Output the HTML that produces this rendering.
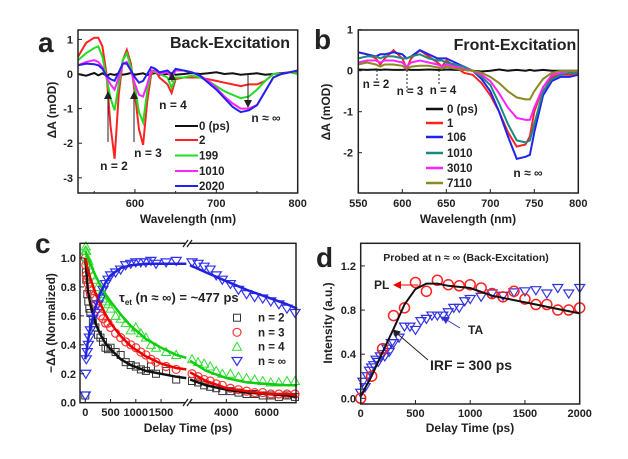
<!DOCTYPE html>
<html><head><meta charset="utf-8"><style>
body{margin:0;background:#fff;}
svg{display:block;font-family:"Liberation Sans",Arial,sans-serif;font-weight:bold;}
</style></head><body>
<svg id="fig" width="628" height="459" viewBox="0 0 628 459">
<defs>
<marker id="ah" markerWidth="8" markerHeight="8" refX="7" refY="4" orient="auto" markerUnits="userSpaceOnUse"><path d="M0,0 L8,4 L0,8 z" fill="#222"/></marker>
<marker id="ahr" markerWidth="8" markerHeight="8" refX="7" refY="4" orient="auto" markerUnits="userSpaceOnUse"><path d="M0,0 L8,4 L0,8 z" fill="#e00"/></marker>
<marker id="ahb" markerWidth="8" markerHeight="8" refX="7" refY="4" orient="auto" markerUnits="userSpaceOnUse"><path d="M0,0 L8,4 L0,8 z" fill="#33c"/></marker>
</defs>
</svg>
<script>
// ---- Panel a data ----
const aWl=[530,540,550,555,560,565,570,575,580,585,590,595,600,605,610,615,620,625,630,640,645,650,660,670,680,690,700,710,720,730,740,750,760,770,780,790,800];
const a0=[0,-0.05,0.03,-0.04,0.02,-0.05,0,-0.03,0.02,-0.02,0,0.03,-0.02,0,0.02,-0.03,0,0.03,-0.02,0,0.02,-0.02,0,0.03,0,0.02,0.05,0,0.02,-0.02,0,0.02,-0.02,0,0.02,0.05,0.05];
const a2=[0.5,0.9,1.05,1.05,0.8,0,-1.5,-2.45,-0.6,0.4,0.7,0.3,-0.6,-1.6,-2.05,-0.8,0,0.1,-0.1,-0.3,-0.55,-0.15,-0.1,-0.1,-0.1,-0.15,-0.2,-0.25,-0.3,-0.35,-0.3,-0.3,-0.2,0,0,0.05,0.05];
const a199=[0.4,0.6,0.75,0.8,0.5,-0.1,-0.7,-1.05,-0.3,0.4,0.6,0.2,-0.4,-1.1,-1.4,-0.5,0.1,0.05,0,-0.1,-0.4,-0.1,-0.1,-0.05,-0.1,-0.2,-0.35,-0.5,-0.6,-0.7,-0.65,-0.45,-0.2,0,0,0.05,0];
const a1010=[0.25,0.35,0.4,0.35,0.2,-0.1,-0.3,-0.45,-0.1,0.3,0.35,0.1,-0.3,-0.6,-0.65,-0.3,0.1,0.1,0,0.05,-0.1,0.1,0.1,0.05,-0.05,-0.2,-0.4,-0.65,-0.85,-1.0,-1.0,-0.9,-0.5,-0.1,0,0.05,0.1];
const a2020=[0.25,0.3,0.28,0.25,0.15,-0.05,-0.15,-0.2,0.05,0.3,0.3,0.1,-0.1,-0.25,-0.2,0,0.2,0.15,0.05,0.1,0,0.15,0.1,0.05,-0.05,-0.25,-0.45,-0.7,-0.95,-1.1,-1.05,-0.9,-0.5,-0.1,0,0.05,0.1];
const aLabels=['0 (ps)','2','199','1010','2020'];
// ---- Panel b data ----
const bWl=[550,560,570,575,580,590,600,605,610,620,630,640,645,650,660,670,680,690,700,710,720,730,740,745,750,760,770,780,790,800];
const b0=[0.03,0.02,0.03,0.02,0.03,0.02,0.02,0.03,0.02,0.02,0.03,0.02,0.02,0.03,0.02,0.02,0,-0.02,0,0.03,0,0.02,0,0.02,0,0.02,0,0,0,0];
const b1=[0.45,0.4,0.3,0.15,0.3,0.5,0.3,0.05,0.3,0.5,0.35,0.2,0.1,0.25,0.1,-0.05,-0.1,-0.3,-0.6,-1.0,-1.5,-1.85,-1.8,-1.6,-1.0,-0.4,-0.15,-0.1,-0.1,-0.05];
const b106=[0.45,0.4,0.35,0.4,0.4,0.45,0.4,0.3,0.35,0.5,0.4,0.3,0.3,0.3,0.2,0.1,0,-0.2,-0.5,-1.0,-1.6,-2.15,-2.1,-2.05,-1.5,-0.6,-0.25,-0.15,-0.15,-0.1];
const b1010=[0.3,0.35,0.35,0.3,0.35,0.35,0.3,0.3,0.35,0.4,0.3,0.25,0.25,0.2,0.15,0.1,0,-0.15,-0.35,-0.8,-1.3,-1.7,-1.75,-1.7,-1.3,-0.5,-0.2,-0.1,-0.05,-0.05];
const b3010=[0.2,0.25,0.25,0.2,0.25,0.25,0.2,0.1,0.2,0.25,0.2,0.15,0.1,0.15,0.1,0.05,0,-0.1,-0.25,-0.55,-0.9,-1.15,-1.2,-1.2,-0.9,-0.4,-0.1,-0.05,0,0];
const b7110=[0.15,0.2,0.15,0.1,0.15,0.15,0.12,0.05,0.1,0.12,0.12,0.08,0.05,0.1,0.05,0.02,0,-0.05,-0.15,-0.3,-0.5,-0.65,-0.7,-0.7,-0.5,-0.2,-0.05,0,0,0];
const bLabels=['0 (ps)','1','106','1010','3010','7110'];
// ---- Panel c data ----
const cT=[0,10,20,40,60,80,100,150,200,250,300,350,400,450,500,600,700,800,900,1000,1100,1200,1300,1400,1600,1800,2300,2600,2900,3200,3500,3800,4200,4600,5000,5400,5800,6200,6600,7000,7400];
const cN2=[0.05,0.9,0.85,0.75,0.7,0.65,0.62,0.55,0.52,0.47,0.45,0.42,0.38,0.37,0.38,0.35,0.33,0.28,0.26,0.25,0.23,0.22,0.25,0.2,0.22,0.16,0.15,0.14,0.12,0.11,0.1,0.08,0.08,0.07,0.06,0.06,0.05,0.05,0.04,0.05,0.04];
const cN3=[1.0,0.95,0.88,0.85,0.82,0.78,0.75,0.72,0.68,0.65,0.6,0.58,0.55,0.55,0.52,0.48,0.45,0.42,0.4,0.38,0.35,0.33,0.3,0.28,0.25,0.23,0.2,0.18,0.16,0.15,0.13,0.12,0.1,0.09,0.08,0.07,0.07,0.06,0.06,0.06,0.06];
const cN4=[1.05,1.08,1.05,1.0,0.98,0.95,0.92,0.88,0.85,0.8,0.75,0.72,0.7,0.68,0.65,0.6,0.58,0.55,0.5,0.52,0.48,0.45,0.4,0.38,0.35,0.33,0.3,0.28,0.27,0.25,0.22,0.2,0.2,0.18,0.17,0.16,0.15,0.14,0.14,0.15,0.15];
const cNinf=[0.05,0.2,0.3,0.35,0.4,0.45,0.5,0.58,0.62,0.68,0.72,0.78,0.82,0.85,0.88,0.9,0.92,0.95,0.96,0.97,0.97,0.97,0.98,0.96,0.97,0.98,0.97,0.96,0.94,0.92,0.88,0.85,0.82,0.78,0.75,0.73,0.72,0.7,0.68,0.65,0.62];
const cFitT1=[0,50,100,200,300,400,500,700,900,1200,1500,1800,2000];
const cFitT2=[2200,3000,4000,5000,6000,7000,7500];
const cFit2=[1.0,0.78,0.68,0.55,0.47,0.41,0.37,0.3,0.26,0.22,0.2,0.18,0.17, 0.16,0.12,0.09,0.07,0.06,0.05,0.04];
const cFit3=[1.0,0.92,0.86,0.76,0.68,0.61,0.55,0.46,0.39,0.32,0.27,0.24,0.23, 0.21,0.15,0.1,0.08,0.06,0.06,0.05];
const cFit4=[1.05,1.0,0.96,0.88,0.81,0.75,0.7,0.61,0.53,0.44,0.38,0.33,0.31, 0.29,0.22,0.17,0.14,0.13,0.12,0.12];
const cFitInf=[0.3,0.42,0.52,0.66,0.76,0.83,0.88,0.93,0.95,0.96,0.96,0.96,0.96, 0.95,0.9,0.84,0.78,0.73,0.68,0.65];
// ---- Panel d data ----
const dPLt=[0,100,200,300,400,500,600,700,800,900,1000,1100,1200,1300,1400,1500,1600,1700,1800,1900,2000];
const dPL=[0,0.2,0.45,0.75,0.82,1.05,0.97,1.07,1.03,1.02,1.03,1.0,0.95,0.92,0.97,0.9,0.85,0.85,0.8,0.8,0.82];
const dTAt=[0,20,40,60,80,100,120,140,160,180,200,220,240,260,280,300,350,400,450,500,550,600,650,700,750,800,850,900,950,1000,1100,1200,1300,1400,1500,1600,1700,1800,1900,2000];
const dTA=[0.05,0.15,0.1,0.2,0.25,0.28,0.3,0.35,0.33,0.38,0.4,0.38,0.45,0.42,0.5,0.5,0.55,0.65,0.65,0.62,0.7,0.72,0.75,0.75,0.75,0.78,0.82,0.82,0.88,0.9,0.92,0.95,0.93,0.96,0.97,0.98,0.95,1.0,0.95,1.0];
const dFitT=[0,100,200,300,400,500,600,700,800,900,1000,1200,1400,1600,1800,2000];
const dFit=[0.02,0.2,0.42,0.63,0.85,0.99,1.04,1.04,1.02,1.01,1.0,0.93,0.89,0.85,0.81,0.77];

const NS='http://www.w3.org/2000/svg';
const svg=document.getElementById('fig');
function mk(tag,attrs,parent){const e=document.createElementNS(NS,tag);for(const k in attrs)e.setAttribute(k,attrs[k]);(parent||svg).appendChild(e);return e;}
function txt(x,y,s,size,anchor,parent,extra){const t=mk('text',Object.assign({x:x,y:y,'font-size':size,'text-anchor':anchor||'start',fill:'#222'},extra||{}),parent);t.textContent=s;return t;}
function linePath(xs,ys,fx,fy){return xs.map((v,i)=>(i?'L':'M')+fx(v).toFixed(1)+','+fy(ys[i]).toFixed(1)).join(' ');}

// ===== Panel a =====
const ax=v=>78+(v-530)*(297.7-78)/270, ay=v=>74-v*34.6;
const gA=mk('g',{});


[[a0,'#111'],[a2,'#f22'],[a199,'#2d2'],[a1010,'#f2f'],[a2020,'#22e']].forEach((s,i)=>{
  const p=mk('path',{d:linePath(aWl,s[0],ax,ay),fill:'none',stroke:s[1],'stroke-width':2},gA);
  
  
});
mk('rect',{x:78,y:30,width:219.7,height:163,fill:'none',stroke:'#222','stroke-width':1.5},gA);
[1,0,-1,-2,-3].forEach(v=>{mk('line',{x1:78,x2:82,y1:ay(v),y2:ay(v),stroke:'#222'},gA);txt(73,ay(v)+4,String(v),11,'end',gA);});
[600,700,800].forEach(v=>{mk('line',{x1:ax(v),x2:ax(v),y1:193,y2:189,stroke:'#222'},gA);txt(ax(v),207,String(v),11,'middle',gA);});
[550,650,750].forEach(v=>mk('line',{x1:ax(v),x2:ax(v),y1:193,y2:191,stroke:'#222'},gA));
txt(188,223,'Wavelength (nm)',12,'middle',gA);
const ayt=txt(0,0,'ΔA (mOD)',12,'middle',gA,{transform:'translate(56,110) rotate(-90)'});

txt(38,52,'a',28,'start',gA);
txt(230,48,'Back-Excitation',16,'middle',gA);
['#111','#f22','#2d2','#f2f','#22e'].forEach((c,i)=>{const y=[126,140,155.5,171,186][i];
  const le=mk('line',{x1:175,x2:198,y1:y,y2:y,stroke:c,'stroke-width':2},gA);
  
  
  txt(199,y+4,aLabels[i],11.5,'start',gA);});
txt(114,170,'n = 2',12,'middle',gA);txt(148,157,'n = 3',12,'middle',gA);txt(173,109,'n = 4',12,'middle',gA);txt(266,122,'n ≈ ∞',12,'middle',gA);
mk('line',{x1:108,y1:142,x2:108,y2:92,stroke:'#222','marker-end':'url(#ah)'},gA);
mk('line',{x1:134,y1:142,x2:134,y2:92,stroke:'#222','marker-end':'url(#ah)'},gA);
mk('line',{x1:172,y1:82,x2:172,y2:73,stroke:'#222','marker-end':'url(#ah)'},gA);
mk('line',{x1:248,y1:74,x2:248,y2:107,stroke:'#222','marker-end':'url(#ah)'},gA);

// ===== Panel b =====
const bx=v=>358.3+(v-550)*0.88, by=v=>70.7-v*41;
const gB=mk('g',{});


const bCols=['#111','#f22','#22e','#1a8a80','#f2f','#8a8a20'];
[b0,b1,b106,b1010,b3010,b7110].forEach((s,i)=>{
  const p=mk('path',{d:linePath(bWl,s,bx,by),fill:'none',stroke:bCols[i],'stroke-width':2},gB);
  
  
});
mk('rect',{x:358.3,y:30,width:220,height:163,fill:'none',stroke:'#222','stroke-width':1.5},gB);
[1,0,-1,-2].forEach(v=>{mk('line',{x1:358.3,x2:362,y1:by(v),y2:by(v),stroke:'#222'},gB);txt(353,by(v)+4,String(v),11,'end',gB);});
[550,600,650,700,750,800].forEach(v=>{mk('line',{x1:bx(v),x2:bx(v),y1:193,y2:189,stroke:'#222'},gB);txt(bx(v),207,String(v),11,'middle',gB);});
txt(468,223,'Wavelength (nm)',12,'middle',gB);
txt(0,0,'ΔA (mOD)',12,'middle',gB,{transform:'translate(330,112) rotate(-90)'});
txt(314,49,'b',28,'start',gB);
txt(515,50,'Front-Excitation',16,'middle',gB);
bCols.forEach((c,i)=>{const y=[109,123,137,153,168,183][i];
  const le=mk('line',{x1:426,x2:443,y1:y,y2:y,stroke:c,'stroke-width':2.5},gB);
  
  
  txt(447,y+4,bLabels[i],11.5,'start',gB);});
txt(376,88,'n = 2',11.5,'middle',gB);txt(410,95,'n = 3',11.5,'middle',gB);txt(443,94,'n = 4',11.5,'middle',gB);txt(528,177,'n ≈ ∞',12,'middle',gB);
[[377,70,80],[407,70,92],[439,70,84]].forEach(d=>mk('line',{x1:d[0],x2:d[0],y1:d[1],y2:d[2],stroke:'#222','stroke-dasharray':'2,2'},gB));

// ===== Panel c =====
const cx=t=>t<=2000?85.3+t*0.0505:190+(t-2200)*0.0202, cy=v=>402.7-v*144.7;
const gC=mk('g',{});


function marker(shape,x,y,c,g){
  if(shape==='sq')return mk('rect',{x:x-3.5,y:y-3.5,width:7,height:7,fill:'none',stroke:c,'stroke-width':1},g);
  if(shape==='ci')return mk('circle',{cx:x,cy:y,r:4,fill:'none',stroke:c,'stroke-width':1.2},g);
  if(shape==='up')return mk('path',{d:`M${x},${y-4.5} L${x+4.5},${y+3.5} L${x-4.5},${y+3.5}Z`,fill:'none',stroke:c,'stroke-width':1},g);
  return mk('path',{d:`M${x},${y+4.5} L${x+5},${y-3.5} L${x-5},${y-3.5}Z`,fill:'none',stroke:c,'stroke-width':1.2},g);
}
const cSeries=[[cN2,'sq','#333',cFit2,'#111'],[cN3,'ci','#f33',cFit3,'#e00'],[cN4,'up','#3d3',cFit4,'#1c1'],[cNinf,'dn','#33e',cFitInf,'#22d']];
cSeries.forEach((s,si)=>{
  cT.forEach((t,i)=>{const m=marker(s[1],cx(t),cy(s[0][i]),s[2],gC);
    
    });
});
cSeries.forEach((s,si)=>{
  const f1=s[3].slice(0,cFitT1.length), f2=s[3].slice(cFitT1.length);
  const p1=mk('path',{d:linePath(cFitT1,f1,cx,cy),fill:'none',stroke:s[4],'stroke-width':2.5},gC);
  
  
  const p2=mk('path',{d:linePath(cFitT2,f2,cx,cy),fill:'none',stroke:s[4],'stroke-width':2.5},gC);
  
  
});
mk('rect',{x:80,y:243.3,width:216,height:159.4,fill:'none',stroke:'#222','stroke-width':1.5},gC);
mk('rect',{x:185,y:240,width:5,height:6,fill:'#fff'},gC);mk('rect',{x:185,y:400,width:5,height:6,fill:'#fff'},gC);
[[183,188],[187,192]].forEach(d=>{mk('line',{x1:d[0],y1:247,x2:d[1],y2:240,stroke:'#222','stroke-width':1.3},gC);mk('line',{x1:d[0],y1:406,x2:d[1],y2:399,stroke:'#222','stroke-width':1.3},gC);});
[0,0.2,0.4,0.6,0.8,1.0].forEach(v=>{mk('line',{x1:80,x2:84,y1:cy(v),y2:cy(v),stroke:'#222'},gC);txt(76,cy(v)+4,v.toFixed(1),11,'end',gC);});
[0,500,1000,1500,4000,6000].forEach(v=>{mk('line',{x1:cx(v),x2:cx(v),y1:402.7,y2:399,stroke:'#222'},gC);txt(cx(v),416,String(v),11,'middle',gC);});
txt(188,432,'Delay Time (ps)',12,'middle',gC);
txt(0,0,'−ΔA (Normalized)',12,'middle',gC,{transform:'translate(55,323) rotate(-90)'});
txt(35,253,'c',28,'start',gC);
const tau=txt(119,302,'',13,'start',gC);tau.innerHTML='τ<tspan font-size="8" dy="3">et</tspan><tspan dy="-3"> (n ≈ ∞) = ~477 ps</tspan>';
['n = 2','n = 3','n = 4','n ≈ ∞'].forEach((l,i)=>{const y=[317.7,332.3,346.7,361][i];
  const m=marker(cSeries[i][1],237,y,cSeries[i][2],gC);
  
  
  txt(258,y+4,l,11.5,'start',gC);});

// ===== Panel d =====
const dx=t=>360.7+t*0.1095, dy=v=>398.3-v*110.3;
const gD=mk('g',{});


dTAt.forEach((t,i)=>{const m=marker('dn',dx(t),dy(dTA[i]),'#33d',gD);
  
  });
dPLt.forEach((t,i)=>{const m=mk('circle',{cx:dx(t),cy:dy(dPL[i]),r:5,fill:'none',stroke:'#f22','stroke-width':1.5},gD);
  
  });
const df=mk('path',{d:linePath(dFitT,dFit,dx,dy),fill:'none',stroke:'#111','stroke-width':2},gD);


mk('rect',{x:360.7,y:243.3,width:219,height:160.7,fill:'none',stroke:'#222','stroke-width':1.5},gD);
[0,0.4,0.8,1.2].forEach(v=>{mk('line',{x1:360.7,x2:365,y1:dy(v),y2:dy(v),stroke:'#222'},gD);txt(356,dy(v)+4,v.toFixed(1),11,'end',gD);});
[0,500,1000,1500,2000].forEach(v=>{mk('line',{x1:dx(v),x2:dx(v),y1:404,y2:400,stroke:'#222'},gD);txt(dx(v),417,String(v),11,'middle',gD);});
txt(470,432,'Delay Time (ps)',12,'middle',gD);
txt(0,0,'Intensity (a.u.)',12,'middle',gD,{transform:'translate(332,323) rotate(-90)'});
txt(316,267,'d',28,'start',gD);
txt(466,261,'Probed at n ≈ ∞ (Back-Excitation)',10.5,'middle',gD);
txt(374,289,'PL',12,'start',gD);
mk('line',{x1:418,y1:285,x2:394,y2:285,stroke:'#e00','marker-end':'url(#ahr)'},gD);
txt(468,334,'TA',12,'start',gD);
mk('line',{x1:460,y1:328,x2:442,y2:317,stroke:'#33c','marker-end':'url(#ahb)'},gD);
txt(430,370,'IRF = 300 ps',14,'start',gD);
mk('line',{x1:428,y1:360,x2:393,y2:330,stroke:'#222','marker-end':'url(#ah)'},gD);
</script>
</body></html>
